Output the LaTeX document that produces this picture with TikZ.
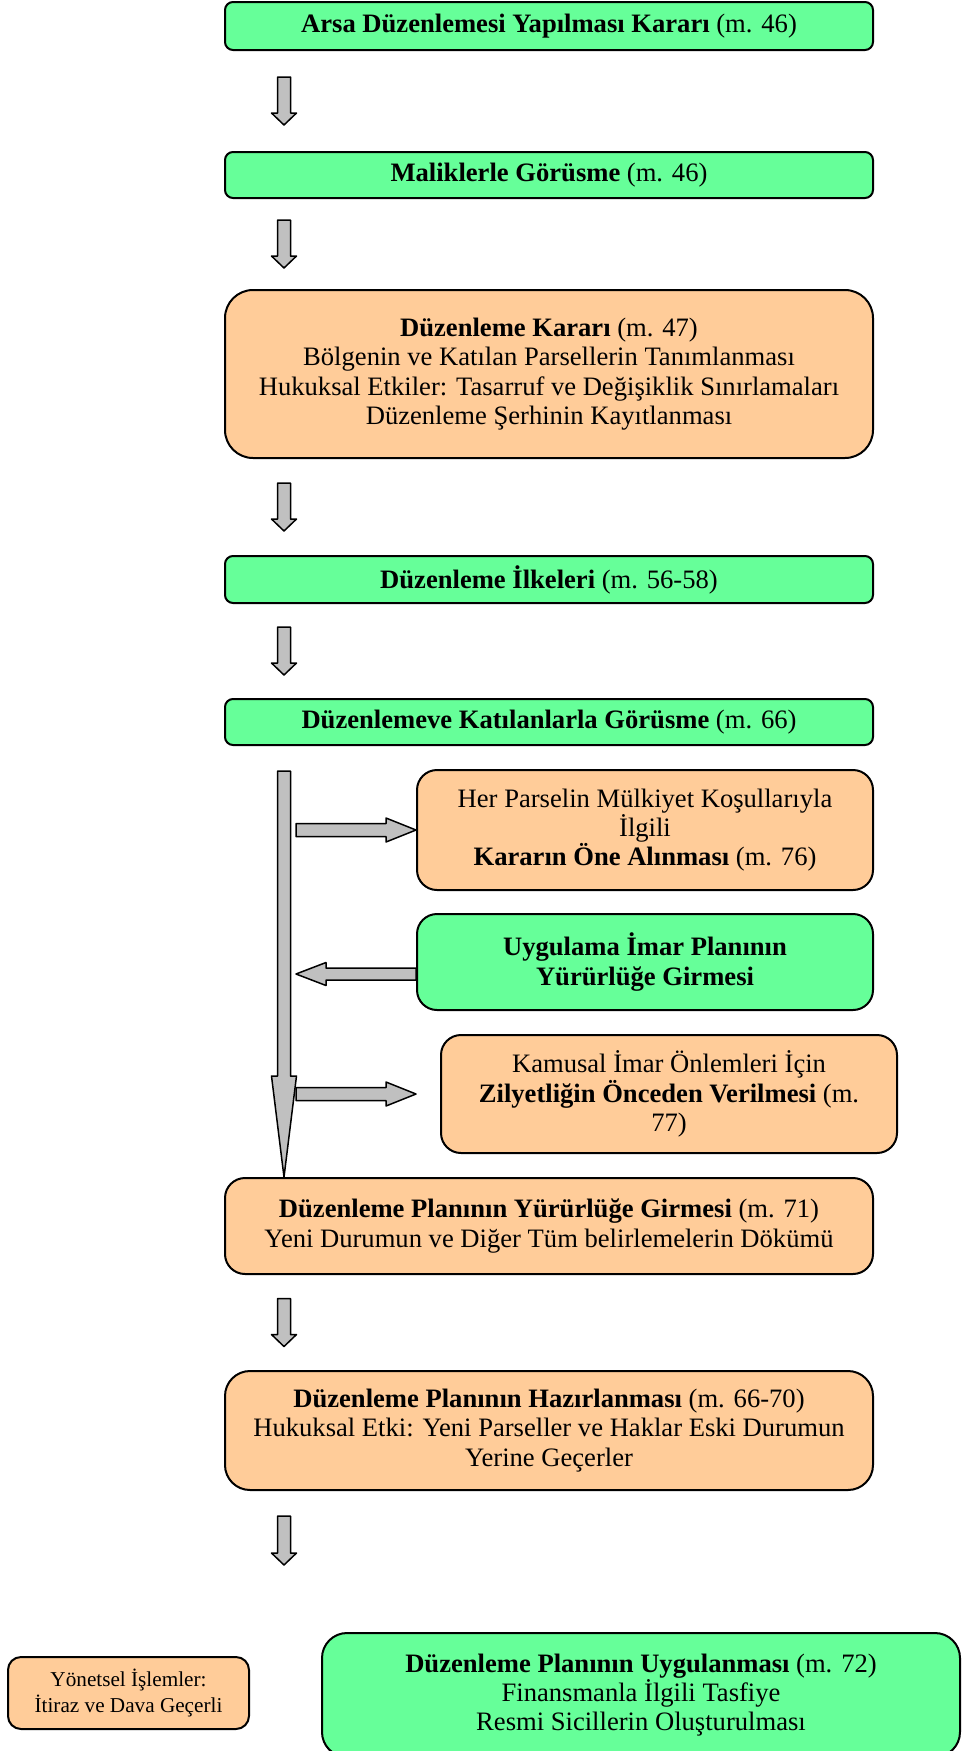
\documentclass[tikz,border=0pt]{standalone}
\usepackage{fontspec}
\setmainfont{Liberation Serif}
\usetikzlibrary{calc}
\definecolor{boxgreen}{RGB}{102,255,153}
\definecolor{boxorange}{RGB}{255,204,153}
\definecolor{arrgray}{RGB}{192,192,192}
% block arrows: [head length]{start}{tip}
\newcommand{\downblock}[3][12]{%
	\draw[blockarr] ($(#2)+(-6.5,0)$) -- ($(#3)+(-6.5,-#1)$) -- ($(#3)+(-12.5,-#1)$) -- (#3)
	-- ($(#3)+(12.5,-#1)$) -- ($(#3)+(6.5,-#1)$) -- ($(#2)+(6.5,0)$) -- cycle;}
\newcommand{\rightblock}[2]{%
	\draw[blockarr] ($(#1)+(0,-6.5)$) -- ($(#2)+(-30,-6.5)$) -- ($(#2)+(-30,-12)$) -- (#2)
	-- ($(#2)+(-30,12)$) -- ($(#2)+(-30,6.5)$) -- ($(#1)+(0,6.5)$) -- cycle;}
\newcommand{\leftblock}[2]{%
	\draw[blockarr] ($(#1)+(0,-6)$) -- ($(#2)+(30,-6)$) -- ($(#2)+(30,-11.5)$) -- (#2)
	-- ($(#2)+(30,11.5)$) -- ($(#2)+(30,6)$) -- ($(#1)+(0,6)$) -- cycle;}
\begin{document}
\begin{tikzpicture}[x=1pt,y=-1pt,line join=round,line cap=round]
	\tikzset{every node/.style={font=\fontsize{26.6}{29.3}\selectfont,align=center,inner sep=3pt},
		greenbox/.style={draw,line width=2pt,fill=boxgreen,rounded corners=8pt,minimum width=648pt},
		orangebox/.style={draw,line width=2pt,fill=boxorange,rounded corners=20pt,minimum width=648pt},
		blockarr/.style={draw,line width=1.5pt,fill=arrgray}}
	\useasboundingbox (0,0) rectangle (962,1751);
	\clip (0,0) rectangle (962,1751);
	% main column
	\node[greenbox,minimum height=48pt] (b1) at (549,26) {\textbf{Arsa Düzenlemesi Yapılması Kararı} (m. 46)};
	\node[greenbox,minimum height=46pt] (b2) at (549,175) {\textbf{Maliklerle Görüsme} (m. 46)};
	\node[orangebox,rounded corners=28pt,minimum height=168pt] (b3) at (549,374) {\textbf{Düzenleme Kararı} (m. 47)\\
		Bölgenin ve Katılan Parsellerin Tanımlanması\\
		Hukuksal Etkiler: Tasarruf ve Değişiklik Sınırlamaları\\
		Düzenleme Şerhinin Kayıtlanması};
	\node[greenbox,minimum height=47pt] (b4) at (549,579.5) {\textbf{Düzenleme İlkeleri} (m. 56-58)};
	\node[greenbox,minimum height=46pt] (b5) at (549,722) {\textbf{Düzenlemeve Katılanlarla Görüsme} (m. 66)};
	% side boxes
	\node[orangebox,minimum width=456pt,minimum height=120pt] (b6) at (645,830) {Her Parselin Mülkiyet Koşullarıyla\\
		İlgili\\ \textbf{Kararın Öne Alınması} (m. 76)};
	\node[greenbox,rounded corners=20pt,minimum width=456pt,minimum height=96pt] (b7) at (645,962) {\textbf{Uygulama İmar Planının}\\
		\textbf{Yürürlüğe Girmesi}};
	\node[orangebox,minimum width=456pt,minimum height=118pt] (b8) at (669,1094) {Kamusal İmar Önlemleri İçin\\
		\textbf{Zilyetliğin Önceden Verilmesi} (m.\\ 77)};
	\node[orangebox,minimum height=96pt] (b9) at (549,1226) {\textbf{Düzenleme Planının Yürürlüğe Girmesi} (m. 71)\\
		Yeni Durumun ve Diğer Tüm belirlemelerin Dökümü};
	\node[orangebox,rounded corners=25pt,minimum height=119pt] (b10) at (549,1430.5) {\textbf{Düzenleme Planının Hazırlanması} (m. 66-70)\\
		Hukuksal Etki: Yeni Parseller ve Haklar Eski Durumun\\ Yerine Geçerler};
	\node[orangebox,rounded corners=13pt,minimum width=241pt,minimum height=72pt,font=\fontsize{21.2}{26}\selectfont] (b11) at (128.5,1693) {Yönetsel İşlemler:\\
		İtiraz ve Dava Geçerli};
	\node[greenbox,rounded corners=25pt,minimum width=638pt,minimum height=124pt] (b12) at (641,1695) {\textbf{Düzenleme Planının Uygulanması} (m. 72)\\
		Finansmanla İlgili Tasfiye\\ Resmi Sicillerin Oluşturulması};
	% down arrows between boxes
	\foreach \a/\b in {b1/b2,b2/b3,b3/b4,b4/b5,b9/b10}{
		\coordinate (\a-m) at ($(\a.south west)!0.5!(\b.north west)$);
		\coordinate (\a-s) at ($(\a-m)+(60,-24)$);
		\coordinate (\a-e) at ($(\a-m)+(60,24)$);
		\downblock{\a-s}{\a-e}
	}
	\coordinate (b10-s) at ($(b10.south west)+(60,25)$);
	\coordinate (b10-e) at ($(b10.south west)+(60,74)$);
	\downblock{b10-s}{b10-e}
	% long arrow with side arrows
	\coordinate (trunk-s) at ($(b5.south west)+(60,25)$);
	\coordinate (trunk-e) at ($(b9.north west)+(60,0)$);
	\downblock[101]{trunk-s}{trunk-e}
	\coordinate (r1) at ($(trunk-s |- b6.west)+(12,0)$);
	\rightblock{r1}{b6.west}
	\coordinate (l1s) at ($(b7.west)+(0,12)$);
	\coordinate (l1e) at ($(trunk-s |- l1s)+(12,0)$);
	\leftblock{l1s}{l1e}
	\coordinate (r2) at ($(trunk-s |- b8.west)+(12,0)$);
	\coordinate (r2e) at ($(b8.west)+(-24,0)$);
	\rightblock{r2}{r2e}
\end{tikzpicture}
\end{document}
